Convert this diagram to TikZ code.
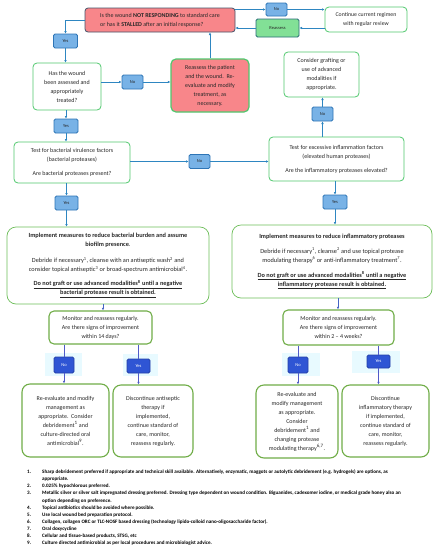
\documentclass[tikz,border=0pt]{standalone}
\usepackage{fontspec}
\setmainfont{Carlito}
\usetikzlibrary{arrows.meta}
\definecolor{redfill}{RGB}{248,134,138}
\definecolor{slateb}{RGB}{68,84,106}
\definecolor{gborder}{RGB}{80,200,110}
\definecolor{gborder2}{RGB}{110,190,90}
\definecolor{oborder}{RGB}{112,173,71}
\definecolor{bfill}{RGB}{120,178,230}
\definecolor{bborder}{RGB}{46,117,182}
\definecolor{dbfill}{RGB}{47,85,212}
\definecolor{dbborder}{RGB}{36,64,168}
\definecolor{reasfill}{RGB}{130,224,150}
\definecolor{reasborder}{RGB}{40,110,120}
\definecolor{conn}{RGB}{46,134,193}
\definecolor{conn2}{RGB}{68,100,196}
\definecolor{conn3}{RGB}{80,90,200}
\definecolor{cyanbg}{RGB}{232,250,255}
\definecolor{txt}{RGB}{40,40,40}
\newcommand\fsm{\fontsize{6}{9}\selectfont}
\newcommand\fsi{\fontsize{6.3}{9}\selectfont}
\newcommand\fss{\fontsize{5.8}{8.5}\selectfont}
\newcommand\fsb{\fontsize{4.5}{5}\selectfont}
\newcommand\fsn{\fontsize{5.1}{7.1}\selectfont}
\begin{document}
\begin{tikzpicture}[x=1pt,y=-1pt,
  every node/.style={inner sep=1pt, text=txt},
  redq/.style={draw=slateb, line width=0.8pt, fill=redfill, rounded corners=3pt, font=\fsm},
  redp/.style={draw=gborder, line width=1.2pt, fill=redfill, rounded corners=5pt, font=\fsm, align=center},
  wg/.style={draw=gborder, line width=0.8pt, fill=white, rounded corners=4pt, font=\fsm, align=center},
  impl/.style={draw=gborder2, line width=0.7pt, fill=white, rounded corners=9pt, font=\fsi, align=center},
  ob/.style={draw=oborder, line width=1.1pt, fill=white, rounded corners=8pt, font=\fsm, align=center},
  bq/.style={draw=bborder, line width=0.8pt, fill=bfill, rounded corners=1.5pt, font=\fsb, align=center},
  dq/.style={draw=dbborder, line width=0.8pt, fill=dbfill, rounded corners=1.5pt, font=\fsb, text=white, align=center},
  reasb/.style={draw=reasborder, line width=0.9pt, fill=reasfill, rounded corners=1.5pt, font=\fsb, align=center},
  arr/.style={draw=conn, line width=0.7pt, -{Latex[length=2.6pt,width=2.6pt]}},
  arr2/.style={draw=conn2, line width=0.7pt, -{Latex[length=2.6pt,width=2.6pt]}},
  ln3/.style={draw=conn3, line width=0.7pt},
  arr3/.style={draw=conn3, line width=0.7pt, -{Latex[length=2.6pt,width=2.6pt]}}
]
\useasboundingbox (0,0) rectangle (441,550);
\fill[white] (0,0) rectangle (441,550);
% faint highlight patches
\fill[cyanbg] (45,353) rectangle (82,376);
\fill[cyanbg] (123,354) rectangle (158,376);
\fill[cyanbg] (282,353) rectangle (320,376);
\fill[cyanbg] (352,351) rectangle (400,373);

% top row
\node[redq, minimum width=150pt, minimum height=24pt, align=left] (q1) at (160,20)
  {Is the wound \textbf{NOT RESPONDING} to standard care\\or has it \textbf{STALLED} after an initial response?};
\node[bq, minimum width=21pt, minimum height=13pt] (no1) at (276.5,9.5) {No};
\node[wg, font=\fss, minimum width=82pt, minimum height=25pt] (cont) at (366,19.5) {Continue current regimen\\with regular review};
\node[reasb, minimum width=43pt, minimum height=18pt] (reas) at (277.5,28) {Reassess};
\node[bq, minimum width=24pt, minimum height=14pt] (yes1) at (65.5,41) {Yes};

% second row
\node[wg, minimum width=68pt, minimum height=47pt] (has) at (67,86.5)
  {Has the wound\\been assessed and\\appropriately\\treated?};
\node[bq, minimum width=21pt, minimum height=14pt] (no2) at (132.5,82) {No};
\node[redp, minimum width=78pt, minimum height=53pt] (rp) at (210,85.5)
  {Reassess the patient\\and the wound.\ \ Re-\\evaluate and modify\\treatment, as\\necessary.};
\node[wg, minimum width=75pt, minimum height=45pt] (graft) at (321.5,74.5)
  {Consider grafting or\\use of advanced\\modalities if\\appropriate.};
\node[bq, minimum width=21pt, minimum height=14pt] (no3) at (322.5,114) {No};
\node[bq, minimum width=24pt, minimum height=14pt] (yes2) at (66,126) {Yes};

% test row
\node[wg, minimum width=116pt, minimum height=41pt] (test) at (72,162.5)
  {Test for bacterial virulence factors\\(bacterial proteases)\\[5pt]Are bacterial proteases present?};
\node[bq, minimum width=21pt, minimum height=14pt] (no4) at (199.5,161.5) {No};
\node[wg, minimum width=135pt, minimum height=44pt] (infl) at (336.5,159)
  {Test for excessive inflammation factors\\(elevated human proteases)\\[5pt]Are the inflammatory proteases elevated?};
\node[bq, minimum width=23pt, minimum height=14pt] (yes3) at (66.5,203) {Yes};
\node[bq, minimum width=24pt, minimum height=14pt] (yes4) at (335,202) {Yes};

% implement row
\node[impl, minimum width=202pt, minimum height=77pt] (impl1) at (108,265.5)
  {\textbf{Implement measures to reduce bacterial burden and assume}\\\textbf{biofilm presence}.\\[7pt]
   Debride if necessary\textsuperscript{1}, cleanse with an antiseptic wash\textsuperscript{2} and\\
   consider topical antiseptic\textsuperscript{3} or broad-spectrum antimicrobial\textsuperscript{4}.\\[5pt]
   \textbf{\underline{Do not graft or use advanced modalities\textsuperscript{8} until a negative}}\\
   \textbf{\underline{bacterial protease result is obtained.}}};
\node[impl, minimum width=200pt, minimum height=73pt] (impl2) at (332,261.5)
  {\textbf{Implement measures to reduce inflammatory proteases}\\[6pt]
   Debride if necessary\textsuperscript{1}, cleanse\textsuperscript{2} and use topical protease\\
   modulating therapy\textsuperscript{6} or anti-inflammatory treatment\textsuperscript{7}.\\[6pt]
   \textbf{\underline{Do not graft or use advanced modalities\textsuperscript{8} until a negative}}\\
   \textbf{\underline{inflammatory protease result is obtained.}}};

% monitor row
\node[ob, rounded corners=5pt, minimum width=103pt, minimum height=33pt] (mon1) at (100.5,327.5)
  {Monitor and reassess regularly.\\Are there signs of improvement\\within 14 days?};
\node[ob, rounded corners=5pt, minimum width=111pt, minimum height=35pt] (mon2) at (338.5,327.5)
  {Monitor and reassess regularly.\\Are there signs of improvement\\within 2 -- 4 weeks?};
\node[dq, minimum width=20pt, minimum height=16pt] (no5) at (64,365) {No};
\node[dq, minimum width=23pt, minimum height=14pt] (yes5) at (138.5,366) {Yes};
\node[dq, minimum width=20pt, minimum height=16pt] (no6) at (298,365) {No};
\node[dq, minimum width=23pt, minimum height=13pt] (yes6) at (378.5,361.5) {Yes};

% bottom boxes
\node[ob, minimum width=87pt, minimum height=73pt] (re1) at (65.5,420.5)
  {Re-evaluate and modify\\management as\\appropriate.\ \ Consider\\debridement\textsuperscript{1} and\\culture-directed oral\\antimicrobial\textsuperscript{9}.};
\node[ob, minimum width=80pt, minimum height=72pt] (dis1) at (153,421)
  {Discontinue antiseptic\\therapy if\\implemented,\\continue standard of\\care, monitor,\\reassess regularly.};
\node[ob, minimum width=82pt, minimum height=73pt] (re2) at (297,421.5)
  {Re-evaluate and\\modify management\\as appropriate.\\Consider\\debridement\textsuperscript{1} and\\changing protease\\modulating therapy\textsuperscript{6,7}.};
\node[ob, minimum width=87pt, minimum height=72pt] (dis2) at (385.5,421)
  {Discontinue\\inflammatory therapy\\if implemented,\\continue standard of\\care, monitor,\\reassess regularly.};

% footnotes
\node[anchor=north west, inner sep=0pt, font=\fsn, text=black] (notes) at (27,468.5)
  {\bfseries\begin{tabular}{@{}p{15pt}@{}l@{}}
  1. & Sharp debridement preferred if appropriate and technical skill available. Alternatively, enzymatic, maggots or autolytic debridement (e.g. hydrogels) are options, as\\
     & appropriate.\\
  2. & 0.025\% hypochlorous preferred.\\
  3. & Metallic silver or silver salt impregnated dressing preferred. Dressing type dependent on wound condition. Biguanides, cadexomer iodine, or medical grade honey also an\\
     & option depending on preference.\\
  4. & Topical antibiotics should be avoided where possible.\\
  5. & Use local wound bed preparation protocol.\\
  6. & Collagen, collagen ORC or TLC-NOSF based dressing (technology lipido-colloid nano-oligosaccharide factor).\\
  7. & Oral doxycycline\\
  8. & Cellular and tissue-based products, STSG, etc\\
  9. & Culture directed antimicrobial as per local procedures and microbiologist advice.
  \end{tabular}};

% connectors top
\coordinate (c1) at (103,0);
\coordinate (c2) at (338,0);
\draw[arr] (q1.east |- no1.west) -- (no1.west);
\draw[arr] (no1.east) -- (cont.west |- no1.east);
\draw[arr] (cont.west |- reas.east) -- (reas.east);
\draw[arr] (reas.west) -- (q1.east |- reas.west);
\draw[arr] (q1.west) -| (yes1.north);
\draw[arr] (yes1.south) -- (yes1.south |- has.north);
\draw[arr] (has.east |- no2.west) -- (no2.west);
\draw[arr] (no2.east) -- (rp.west |- no2.east);
\draw[arr] (rp.north) -- (rp.north |- q1.south);
\draw[arr] (has.south -| yes2.north) -- (yes2.north);
\draw[arr] (yes2.south) -- (yes2.south |- test.north);
\draw[arr] (test.east |- no4.west) -- (no4.west);
\draw[arr] (no4.east) -- (infl.west |- no4.east);
\draw[arr] (infl.north -| no3.south) -- (no3.south);
\draw[arr] (no3.north) -- (no3.north |- graft.south);
\draw[arr] (test.south -| yes3.north) -- (yes3.north);
\draw[arr] (yes3.south) -- (yes3.south |- impl1.north);
\draw[arr] (infl.south -| yes4.north) -- (yes4.north);
\draw[arr] (yes4.south) -- (yes4.south |- impl2.north);
% connectors bottom
\draw[arr2] (impl1.south -| c1) -- (mon1.north -| c1);
\draw[arr2] (impl2.south -| c2) -- (mon2.north -| c2);
\draw[ln3] (mon1.south -| no5.north) -- (no5.north);
\draw[arr3] (no5.south) -- (no5.south |- re1.north);
\draw[ln3] (mon1.south -| yes5.north) -- (yes5.north);
\draw[arr3] (yes5.south) -- (yes5.south |- dis1.north);
\draw[ln3] (mon2.south -| no6.north) -- (no6.north);
\draw[arr3] (no6.south) -- (no6.south |- re2.north);
\draw[ln3] (mon2.south -| yes6.north) -- (yes6.north);
\draw[arr3] (yes6.south) -- (yes6.south |- dis2.north);
\end{tikzpicture}
\end{document}
